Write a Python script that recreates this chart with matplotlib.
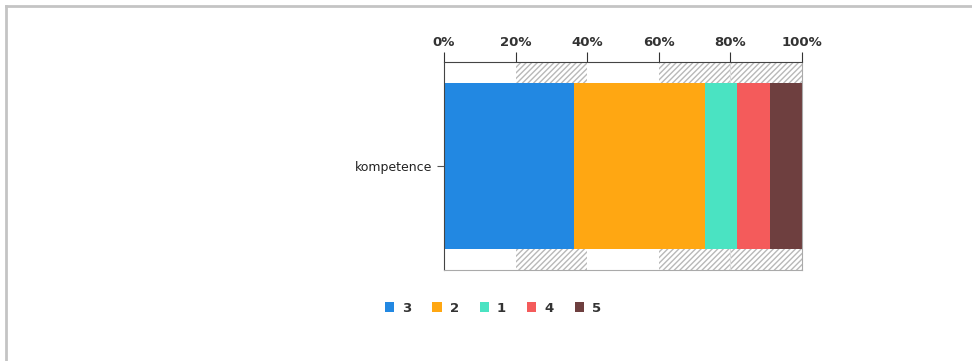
import matplotlib.pyplot as plt
from matplotlib.patches import Rectangle
from matplotlib.lines import Line2D

categories = ["kompetence"]
series_names = ["3", "2", "1", "4", "5"]
series_values = [36.4, 36.4, 9.1, 9.1, 9.0]
colors = ["#2288e2", "#ffa712", "#4ae3c2", "#f45b5b", "#6e3f3f"]
tick_vals = [0, 20, 40, 60, 80, 100]
tick_labels = ["0%", "20%", "40%", "60%", "80%", "100%"]
hatch_bands = [(20, 40), (60, 100)]

fig = plt.figure(figsize=(9.72, 3.61), dpi=100)

# rámeček okolo (jen horní a levá čára)
fig.add_artist(Line2D([6 / 972, 1], [1 - 6 / 361] * 2, color="#c4c4c4", lw=2))
fig.add_artist(Line2D([6 / 972] * 2, [0, 1 - 6 / 361], color="#c4c4c4", lw=2))

ax = fig.add_axes([444 / 972, 1 - 270 / 361, 358 / 972, 208 / 361])
ax.set_xlim(0, 100)
ax.set_ylim(-0.5, 0.5)

for a, b in hatch_bands:
    ax.add_patch(Rectangle((a, -0.5), b - a, 1, facecolor="white", edgecolor="#b8b8b8",
                           hatch="//////", lw=0, zorder=0))
ax.axvline(80, color="#dddddd", lw=0.8, zorder=0)

left = 0
for name, v, c in zip(series_names, series_values, colors):
    ax.barh(0, v, left=left, height=0.8, color=c, label=name, zorder=2)
    left += v

ax.xaxis.tick_top()
ax.set_xticks(tick_vals)
ax.set_xticklabels(tick_labels, fontsize=9.5, color="#333333", fontweight="bold")
ax.tick_params(axis="x", length=7, color="#333333", pad=2)
ax.set_yticks([0])
ax.set_yticklabels(categories, fontsize=9, color="#222222")
ax.tick_params(axis="y", length=5, color="#555555")

ax.spines["left"].set_color("#444444")
ax.spines["top"].set_color("#444444")
ax.spines["right"].set_color("#aaaaaa")
ax.spines["bottom"].set_color("#aaaaaa")

leg = fig.legend(loc="center", bbox_to_anchor=(493 / 972, 1 - 308 / 361), ncol=5,
                 frameon=False, handlelength=0.7, handleheight=0.7, columnspacing=1.6,
                 handletextpad=0.6, prop={"size": 9.5, "weight": "bold"})
for t in leg.get_texts():
    t.set_color("#333333")

fig.savefig("out.png", dpi=100)
